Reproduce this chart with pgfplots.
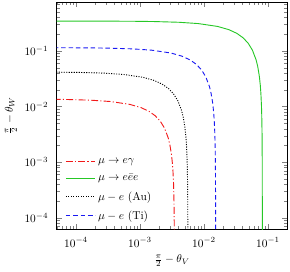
\documentclass[border=0pt]{standalone}
\usepackage{pgfplots}
\pgfplotsset{compat=1.18}
\definecolor{myred}{rgb}{0.95,0.1,0.1}
\definecolor{mygreen}{rgb}{0.15,0.78,0.15}
\definecolor{myblue}{rgb}{0.1,0.1,0.95}
\begin{document}
\begin{tikzpicture}
\begin{axis}[
  scale only axis,
  width=203pt, height=200pt,
  xmode=log, ymode=log,
  xmin=5e-5, xmax=0.2,
  ymin=6.2e-5, ymax=0.76,
  xlabel={$\frac{\pi}{2}-\theta_V$},
  ylabel={$\frac{\pi}{2}-\theta_W$},
  xticklabel style={yshift=-4pt},
  yticklabel style={xshift=-4pt},
  xlabel style={yshift=0pt},
  legend style={at={(0.022,0.015)}, anchor=south west, draw=none, fill=none, row sep=4pt},
  legend cell align=left,
  legend image code/.code={\draw[#1] (0pt,0pt) -- (26pt,0pt);},
]
\addplot[color=myred, thick, dash pattern=on 6pt off 2pt on 1pt off 2pt] coordinates {
(4.5e-5,0.01352) (6.9e-5,0.013426) (1.725e-4,0.013015) (3.45e-4,0.01233)
(6.9e-4,0.01096) (1.035e-3,0.00959) (1.38e-3,0.00822) (1.725e-3,0.00685)
(2.07e-3,0.00548) (2.415e-3,0.00411) (2.76e-3,0.00274) (2.9325e-3,0.002055)
(3.105e-3,0.00137) (3.2085e-3,0.000959) (3.2775e-3,0.000685) (3.3465e-3,0.000411)
(3.381e-3,0.000274) (3.4155e-3,0.000137) (3.43275e-3,0.0000685) (3.4431e-3,0.0000274)
};
\addlegendentry{$\mu\rightarrow e\gamma$}
\addplot[color=mygreen, thick] coordinates {
(4.5e-5,0.3458) (2.445e-4,0.34496) (8.15e-4,0.34254) (1.63e-3,0.33908)
(4.075e-3,0.3287) (8.15e-3,0.3114) (0.0163,0.2768) (0.02445,0.2422)
(0.0326,0.2076) (0.04075,0.173) (0.0489,0.1384) (0.05705,0.1038)
(0.0652,0.0692) (0.069275,0.0519) (0.07335,0.0346) (0.075795,0.02422)
(0.077425,0.0173) (0.079055,0.01038) (0.07987,0.00692) (0.080685,0.00346)
(0.0810925,0.00173) (0.081337,0.000692) (0.0814185,0.000346) (0.08145925,0.000173)
(0.08149185,0.0000346)
};
\addlegendentry{$\mu\rightarrow e\bar{e}e$}
\addplot[color=black, thick, dash pattern=on 0.9pt off 1.3pt] coordinates {
(4.5e-5,0.04166) (1.12e-4,0.04116) (2.8e-4,0.0399) (5.6e-4,0.0378)
(1.12e-3,0.0336) (1.68e-3,0.0294) (2.24e-3,0.0252) (2.8e-3,0.021)
(3.36e-3,0.0168) (3.92e-3,0.0126) (4.48e-3,0.0084) (4.76e-3,0.0063)
(5.04e-3,0.0042) (5.208e-3,0.00294) (5.32e-3,0.0021) (5.432e-3,0.00126)
(5.488e-3,0.00084) (5.544e-3,0.00042) (5.572e-3,0.00021) (5.5888e-3,0.000084)
(5.5944e-3,0.000042)
};
\addlegendentry{$\mu-e$ (Au)}
\addplot[color=myblue, thick, dash pattern=on 4pt off 2.5pt] coordinates {
(4.5e-5,0.11466) (1.52e-4,0.11385) (3.04e-4,0.1127) (7.6e-4,0.10925)
(1.52e-3,0.1035) (3.04e-3,0.092) (4.56e-3,0.0805) (6.08e-3,0.069)
(7.6e-3,0.0575) (9.12e-3,0.046) (0.01064,0.0345) (0.01216,0.023)
(0.01292,0.01725) (0.01368,0.0115) (0.014136,0.00805) (0.01444,0.00575)
(0.014744,0.00345) (0.014896,0.0023) (0.015048,0.00115) (0.015124,0.000575)
(0.0151696,0.00023) (0.0151848,0.000115) (0.0151924,0.0000575) (0.01519848,0.0000115)
};
\addlegendentry{$\mu-e$ (Ti)}
\end{axis}
\pgfresetboundingbox
\path (current axis.south west) +(-49.9pt,-37pt) (current axis.north east) +(2.4pt,1.8pt);
\end{tikzpicture}
\end{document}
